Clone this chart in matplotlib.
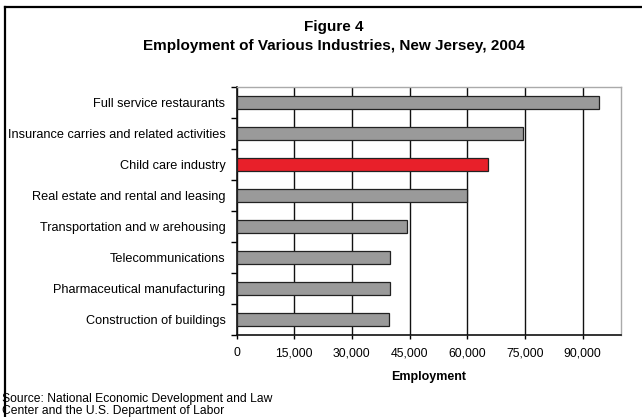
import matplotlib
matplotlib.use("Agg")
import matplotlib.pyplot as plt
from matplotlib.lines import Line2D
from matplotlib.ticker import FuncFormatter

industries = [
    "Full service restaurants",
    "Insurance carries and related activities",
    "Child care industry",
    "Real estate and rental and leasing",
    "Transportation and w arehousing",
    "Telecommunications",
    "Pharmaceutical manufacturing",
    "Construction of buildings",
]
employment = [94400, 74600, 65400, 59900, 44400, 39900, 39900, 39700]
highlight = "Child care industry"
x_ticks = [0, 15000, 30000, 45000, 60000, 75000, 90000]


def main():
    plt.rcParams["font.family"] = ["Liberation Sans", "DejaVu Sans"]
    fig = plt.figure(figsize=(6.42, 4.17), dpi=100)
    W, H = 642, 417
    ax = fig.add_axes([236.5 / W, 82 / H, 384.5 / W, 248 / H])

    colors = ["#e8202a" if name == highlight else "#9a9a9a" for name in industries]
    ax.barh(range(len(industries)), employment, height=0.4, color=colors,
            edgecolor="#222222", linewidth=0.9, zorder=3)

    ax.set_xlim(0, 100000)
    ax.set_ylim(len(industries) - 0.5, -0.5)
    ax.set_xticks(x_ticks)
    ax.xaxis.set_major_formatter(FuncFormatter(lambda v, p: f"{int(v):,}"))
    ax.grid(axis="x", color="#111111", linewidth=1.0, zorder=1)

    ax.set_yticks(range(len(industries)))
    ax.set_yticklabels(industries, fontsize=9.2)
    ax.set_yticks([i - 0.5 for i in range(len(industries) + 1)], minor=True)
    ax.tick_params(axis="y", which="major", length=0, pad=8)
    ax.tick_params(axis="y", which="minor", length=4, width=1, direction="out")
    ax.tick_params(axis="x", length=3, width=1, direction="out", labelsize=8.8, pad=6)

    for side in ["left", "bottom"]:
        ax.spines[side].set_color("#111111")
        ax.spines[side].set_linewidth(1.2)
    for side in ["top", "right"]:
        ax.spines[side].set_color("#aaaaaa")
        ax.spines[side].set_linewidth(1.0)

    ax.set_xlabel("Employment", fontsize=9, fontweight="bold", labelpad=8)

    fig.text(334 / W, 1 - 27 / H, "Figure 4", ha="center", va="center",
             fontsize=11, fontweight="bold")
    fig.text(334 / W, 1 - 46 / H, "Employment of Various Industries, New Jersey, 2004",
             ha="center", va="center", fontsize=11, fontweight="bold")
    fig.text(2 / W, 1 - 405 / H, "Source: National Economic Development and Law\n"
             "Center and the U.S. Department of Labor", ha="left", va="center",
             fontsize=8.7, linespacing=0.92)

    # frame lines around the figure (top and left only)
    fig.add_artist(Line2D([5 / W, 1], [1 - 7 / H, 1 - 7 / H], color="black",
                          linewidth=1.6, transform=fig.transFigure))
    fig.add_artist(Line2D([5 / W, 5 / W], [1 - 7 / H, 0], color="black",
                          linewidth=1.6, transform=fig.transFigure))

    fig.savefig("out.png", dpi=100)


if __name__ == "__main__":
    main()
